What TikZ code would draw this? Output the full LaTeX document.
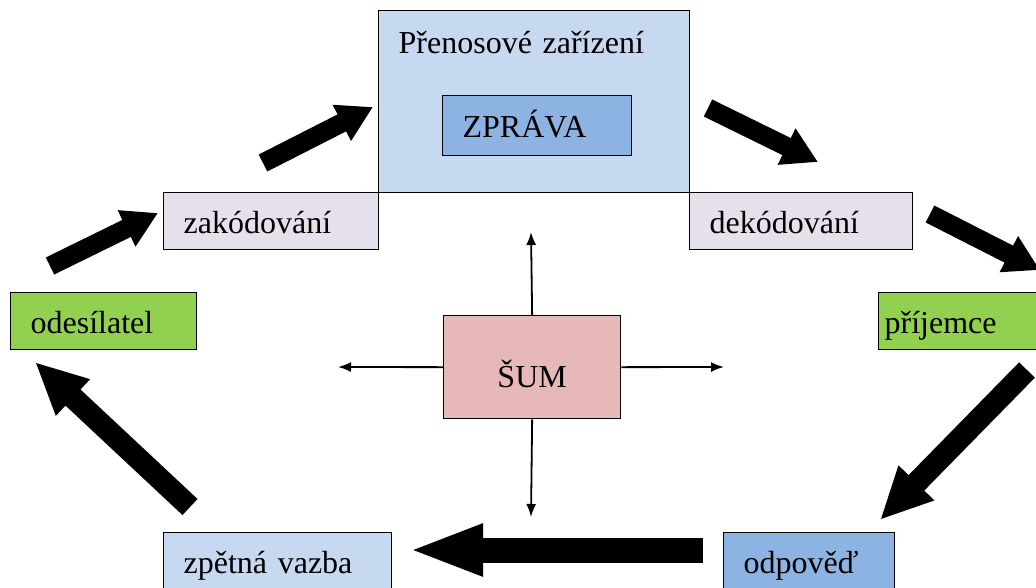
\documentclass[tikz,border=0pt]{standalone}
\usepackage{fontspec}
\setmainfont{Liberation Serif}
\usetikzlibrary{arrows.meta}

\definecolor{svetlemodra}{HTML}{C6D9F1}
\definecolor{modra}{HTML}{8DB3E2}
\definecolor{levandule}{HTML}{E5E0EC}
\definecolor{zelena}{HTML}{92D050}
\definecolor{ruzova}{HTML}{E6B9B8}

\begin{document}
\begin{tikzpicture}[x=1pt,y=-1pt,
    box/.style={draw,line width=1.3pt,anchor=north west,align=left,
      inner xsep=20pt,minimum height=57pt,text height=24pt,text depth=0pt,
      font=\fontsize{32}{38}\selectfont},
    sipka/.style={line width=19pt,-{Triangle[length=35pt,width=38pt]}},
    velkasipka/.style={line width=22pt,-{Triangle[length=52pt,width=46pt]}},
    tenka/.style={line width=1.8pt,-{Latex[length=13pt,width=10pt]}}]

        \useasboundingbox (0,0) rectangle (1036,587);
        \clip (0,0) rectangle (1036,587);

        % boxes
        \node[box,fill=svetlemodra,text width=271pt,inner ysep=10pt,
              text height=33pt,text depth=129pt] (prenos) at (378,10) {Přenosové zařízení};
        \node[box,fill=modra,text width=149pt,minimum height=60pt] (zprava) at (442,95) {ZPRÁVA};
        \node[box,fill=levandule,text width=175pt] (zak) at (163,192) {zakódování};
        \node[box,fill=levandule,text width=183pt] (dek) at (689,192) {dekódování};
        \node[box,fill=zelena,text width=146pt] (odes) at (10,292) {odesílatel};
        \node[box,fill=zelena,inner xsep=6pt,text width=160pt] (prij) at (878,292) {příjemce};
        \node[box,fill=ruzova,align=center,text width=137pt,minimum height=103pt,
              text height=40pt] (sum) at (443,315) {ŠUM};
        \node[box,fill=svetlemodra,text width=188pt] (zpet) at (163,532) {zpětná vazba};
        \node[box,fill=modra,text width=131pt] (odp) at (723,532) {odpověď};

        % noise arrows
        \coordinate (nahoru) at (531,232);
        \coordinate (dolu)   at (531,517);
        \coordinate (vlevo)  at (338,367);
        \coordinate (vpravo) at (724,367);
        \draw[tenka] (sum.north) -- (nahoru);
        \draw[tenka] (sum.south) -- (dolu);
        \draw[tenka] (sum.west)  -- (vlevo);
        \draw[tenka] (sum.east)  -- (vpravo);

        % block arrows
        \coordinate (s1) at (50,266);   \coordinate (k1) at (158,213);
        \coordinate (s2) at (263,163);  \coordinate (k2) at (373,107);
        \coordinate (s3) at (708,108);  \coordinate (k3) at (818,162);
        \coordinate (s4) at (930,214);  \coordinate (k4) at (1040,270);
        \coordinate (s5) at (1027,370); \coordinate (k5) at (880,520);
        \coordinate (s6) at (703,550);  \coordinate (k6) at (408,550);
        \coordinate (s7) at (190,507);  \coordinate (k7) at (35,362);
        \draw[sipka] (s1) -- (k1);
        \draw[sipka] (s2) -- (k2);
        \draw[sipka] (s3) -- (k3);
        \draw[sipka] (s4) -- (k4);
        \draw[velkasipka] (s5) -- (k5);
        \draw[line width=25pt,-{Triangle[length=75pt,width=47pt]}] (s6) -- (k6);
        \draw[velkasipka] (s7) -- (k7);

\end{tikzpicture}
\end{document}
